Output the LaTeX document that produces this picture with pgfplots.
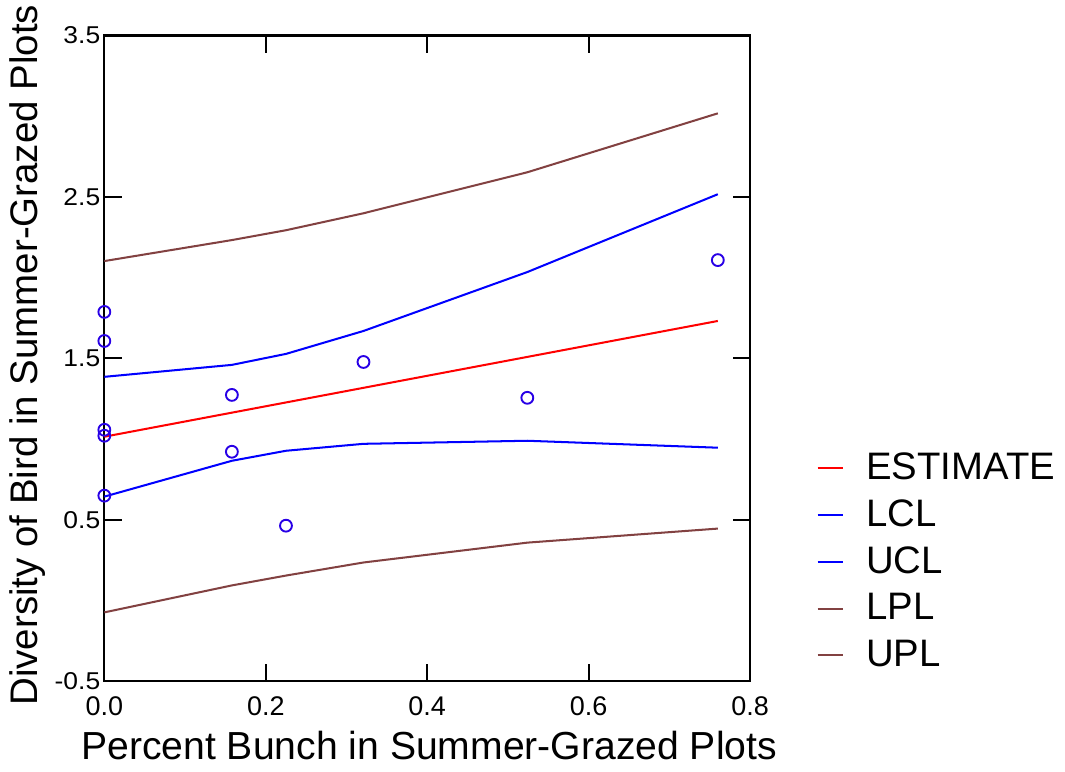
\documentclass[border=0pt]{standalone}
\usepackage{pgfplots}
\pgfplotsset{compat=1.18}
\usepackage{fontspec}
\setmainfont{Liberation Sans}
\definecolor{estc}{RGB}{255,0,0}
\definecolor{clc}{RGB}{0,0,255}
\definecolor{plc}{RGB}{130,65,65}
\definecolor{ptc}{RGB}{40,0,230}

\begin{document}
\begin{tikzpicture}
\begin{axis}[
    scale only axis,
    width=239.4pt, height=239.4pt,
    xmin=0, xmax=0.8, ymin=-0.5, ymax=3.5,
    xtick={0,0.2,...,0.8},
    ytick={-0.5,0.5,1.5,2.5,3.5},
    xticklabels={0.0,0.2,0.4,0.6,0.8},
    yticklabels={-0.5,0.5,1.5,2.5,3.5},
    tick align=inside,
    major tick length=6.5pt,
    tick style={black, line width=0.7pt},
    axis line style={black, line width=0.8pt},
    /pgf/number format/assume math mode=true,
    xticklabel style={font=\fontsize{10}{11}\selectfont, yshift=-2pt},
    yticklabel style={font=\fontsize{9.8}{10}\selectfont, yscale=0.92, xshift=2pt},
    xlabel={Percent Bunch in Summer-Grazed Plots},
    ylabel={Diversity of Bird in Summer-Grazed Plots},
    xlabel style={font=\fontsize{14.5}{16}\selectfont, at={(rel axis cs:0.503,0)},
        anchor=north, inner xsep=0pt, inner ysep=4.4pt, yshift=-13.7pt},
    ylabel style={font=\fontsize{14.25}{16}\selectfont, at={(rel axis cs:0,0.505)},
        anchor=south, inner xsep=1.8pt, inner ysep=3.7pt, yshift=17.8pt},
    clip=false,
    legend cell align=left,
    legend style={draw=none, fill=none, at={(rel axis cs:1.095,0.1855)}, anchor=west,
        inner xsep=1.7pt, inner ysep=2pt,
        font=\fontsize{14.2}{16}\selectfont, row sep=2pt,
        /tikz/every odd column/.append style={column sep=6.3pt}},
    legend image code/.code={\draw[#1] (0cm,0cm) -- (0.33cm,0cm);},
]
\addplot[ptc, only marks, mark=o, mark size=2.2pt, mark options={line width=0.7pt}, forget plot] coordinates {
    (0,1.788) (0,1.608) (0,1.058) (0,1.021) (0,0.650)
    (0.158,1.274) (0.158,0.922) (0.225,0.464) (0.321,1.478)
    (0.524,1.256) (0.760,2.109)
};
\addplot[estc, line width=0.75pt] coordinates {
    (0,1.015) (0.760,1.732)
};
\addlegendentry{ESTIMATE}
\addplot[clc, line width=0.75pt] coordinates {
    (0,0.644) (0.158,0.866) (0.225,0.928) (0.321,0.971) (0.524,0.990) (0.760,0.947)
};
\addlegendentry{LCL}
\addplot[clc, line width=0.75pt] coordinates {
    (0,1.386) (0.158,1.460) (0.225,1.528) (0.321,1.670) (0.524,2.035) (0.760,2.517)
};
\addlegendentry{UCL}
\addplot[plc, line width=0.75pt] coordinates {
    (0,-0.073) (0.158,0.094) (0.225,0.155) (0.321,0.236) (0.524,0.359) (0.760,0.446)
};
\addlegendentry{LPL}
\addplot[plc, line width=0.75pt] coordinates {
    (0,2.103) (0.158,2.233) (0.225,2.294) (0.321,2.399) (0.524,2.653) (0.760,3.018)
};
\addlegendentry{UPL}
\end{axis}
\end{tikzpicture}
\end{document}
